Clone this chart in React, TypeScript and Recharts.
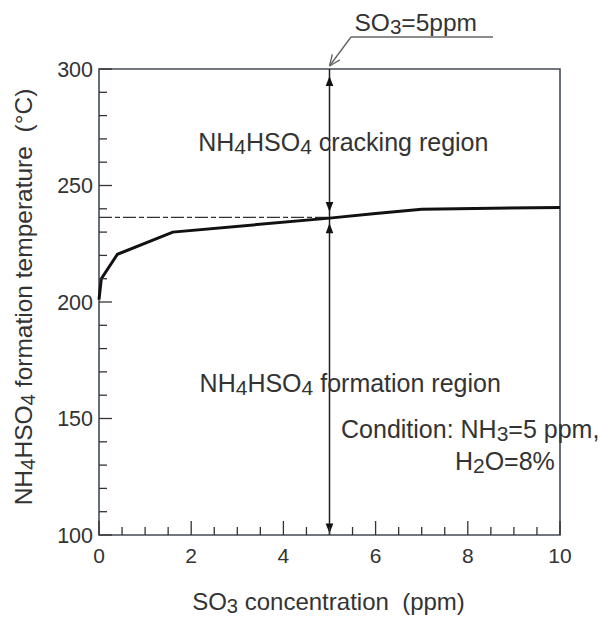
import React from 'react';
import {
  LineChart,
  Line,
  XAxis,
  YAxis,
  ReferenceLine,
  ReferenceArea,
  ReferenceDot
} from 'recharts';

// curve
const so3Ppm = [0, 0.05, 0.4, 1.6, 5, 6, 7, 10];
const formationTemp = [201, 210, 220.5, 230, 236, 238, 239.8, 240.6];

const xTicks = [0, 0.5, 1, 1.5, 2, 2.5, 3, 3.5, 4, 4.5, 5, 5.5, 6, 6.5, 7, 7.5, 8, 8.5, 9, 9.5, 10];
const yTicks = [100, 110, 120, 130, 140, 150, 160, 170, 180, 190, 200, 210, 220, 230, 240, 250, 260, 270, 280, 290, 300];

const markerX = 5;
const crossTemp = 236.3;
// arrow tips on the x=5 line: [y, direction]
const arrowTips: [number, 'up' | 'down'][] = [
  [297, 'up'],
  [238.6, 'down'],
  [233.8, 'up'],
  [100.6, 'down']
];

const FONT = '"Liberation Sans", Arial, sans-serif';
const TEXT = '#333';

const data = so3Ppm.map((x, i) => ({ x, y: formationTemp[i] }));

// [text, isSubscript]
type Part = [string, boolean];

const renderParts = (parts: Part[], shift = 3) => {
  let down = false;
  return parts.map(([t, sub], i) => {
    let dy = 0;
    if (sub && !down) { dy = shift; down = true; }
    else if (!sub && down) { dy = -shift; down = false; }
    return (
      <tspan key={i} dy={dy} fontSize={sub ? '0.84em' : undefined}>{t}</tspan>
    );
  });
};

const NH4HSO4: Part[] = [['NH', false], ['4', true], ['HSO', false], ['4', true]];

const XTick = (props: any) => {
  const { x, y, payload } = props;
  const v = payload.value;
  const major = v % 2 === 0;
  return (
    <g>
      <line x1={x} y1={y} x2={x} y2={y - (major ? 14 : 8)} stroke="#333" strokeWidth={1.3} />
      {major && (
        <text x={x} y={y + 28} textAnchor="middle" fontSize={21} fontFamily={FONT} fill={TEXT}>
          {v}
        </text>
      )}
    </g>
  );
};

const YTick = (props: any) => {
  const { x, y, payload } = props;
  const v = payload.value;
  const major = v % 50 === 0;
  return (
    <g>
      <line x1={x} y1={y} x2={x + (major ? 13 : 8)} y2={y} stroke="#333" strokeWidth={1.3} />
      {major && (
        <text x={x - 6} y={y + 7.5} textAnchor="end" fontSize={21.5} fontFamily={FONT} fill={TEXT}>
          {v}
        </text>
      )}
    </g>
  );
};

const Arrow = ({ cx, cy, dir }: any) => {
  const s = dir === 'up' ? 1 : -1;
  return (
    <polygon
      points={`${cx},${cy} ${cx - 3.8},${cy + s * 10} ${cx + 3.8},${cy + s * 10}`}
      fill="#111"
    />
  );
};

// leader note above the frame, anchored to (5, 300)
const So3Note = ({ cx, cy }: any) => {
  const sx = cx + 21.5;
  const sy = cy - 32;
  const ang = Math.atan2(cy - 3 - sy, cx - sx);
  const tipX = cx;
  const tipY = cy - 3;
  const len = 12;
  const a1 = ang + Math.PI - 0.4;
  const a2 = ang + Math.PI + 0.4;
  return (
    <g stroke="#666" strokeWidth={1.4} fill="none">
      <line x1={sx} y1={sy} x2={sx + 142} y2={sy} />
      <line x1={sx} y1={sy} x2={tipX} y2={tipY} />
      <line x1={tipX} y1={tipY} x2={tipX + len * Math.cos(a1)} y2={tipY + len * Math.sin(a1)} />
      <line x1={tipX} y1={tipY} x2={tipX + len * Math.cos(a2)} y2={tipY + len * Math.sin(a2)} />
      <text
        x={cx + 25}
        y={cy - 38.5}
        fontSize={24.5}
        fontFamily={FONT}
        fill={TEXT}
        stroke="none"
      >
        {renderParts([['SO', false], ['3', true], ['=5ppm', false]])}
      </text>
    </g>
  );
};

const NoteText = ({ cx, cy, parts, anchor }: any) => (
  <text
    x={cx}
    y={cy}
    textAnchor={anchor || 'start'}
    fontSize={25}
    fontFamily={FONT}
    fill={TEXT}
    style={{ whiteSpace: 'pre' }}
  >
    {renderParts(parts)}
  </text>
);

const YLabel = (props: any) => {
  const vb = props.viewBox || {};
  const cx = 32;
  const cy = vb.y + vb.height / 2 - 5;
  return (
    <text
      x={cx}
      y={cy}
      transform={`rotate(-90, ${cx}, ${cy})`}
      textAnchor="middle"
      fontSize={24.5}
      fontFamily={FONT}
      fill={TEXT}
      style={{ whiteSpace: 'pre' }}
    >
      {renderParts([...NH4HSO4, [' formation temperature  (°C)', false]])}
    </text>
  );
};

const XLabel = (props: any) => {
  const vb = props.viewBox || {};
  const cx = vb.x + vb.width / 2 - 1;
  return (
    <text
      x={cx}
      y={610}
      textAnchor="middle"
      fontSize={24}
      fontFamily={FONT}
      fill={TEXT}
      style={{ whiteSpace: 'pre' }}
    >
      {renderParts([['SO', false], ['3', true], [' concentration  (ppm)', false]])}
    </text>
  );
};

export default function App() {
  return (
    <div style={{ position: 'absolute', left: 0, top: 0, background: '#fff' }}>
      <LineChart width={600} height={617} data={data} margin={{ top: 69, right: 40, left: 0, bottom: 0 }}>
        <XAxis
          dataKey="x"
          type="number"
          domain={[0, 10]}
          ticks={xTicks}
          interval={0}
          tick={<XTick />}
          tickLine={false}
          axisLine={false}
          tickSize={0}
          tickMargin={0}
          height={82}
          label={{ content: XLabel }}
        />
        <YAxis
          type="number"
          domain={[100, 300]}
          ticks={yTicks}
          interval={0}
          tick={<YTick />}
          tickLine={false}
          axisLine={false}
          tickSize={0}
          tickMargin={0}
          width={99}
          label={{ content: YLabel }}
        />
        <ReferenceArea x1={0} x2={10} y1={100} y2={300} fill="none" stroke="#444b55" strokeWidth={1.6} ifOverflow="visible" />
        <ReferenceLine
          segment={[{ x: 0, y: crossTemp }, { x: markerX, y: crossTemp }]}
          stroke="#333"
          strokeWidth={1.3}
          strokeDasharray="13 3 5 3"
          ifOverflow="visible"
        />
        <ReferenceLine
          segment={[{ x: markerX, y: 100 }, { x: markerX, y: 300 }]}
          stroke="#222"
          strokeWidth={1.5}
          ifOverflow="visible"
        />
        <Line
          type="linear"
          dataKey="y"
          stroke="#111"
          strokeWidth={3}
          dot={false}
          isAnimationActive={false}
        />
        {arrowTips.map(([y, dir], i) => (
          <ReferenceDot key={i} x={markerX} y={y} r={1} ifOverflow="visible" shape={(p: any) => <Arrow {...p} dir={dir} />} />
        ))}
        <ReferenceDot x={markerX} y={300} r={1} ifOverflow="visible" shape={(p: any) => <So3Note {...p} />} />
        <ReferenceDot
          x={5.3}
          y={265}
          r={1}
          ifOverflow="visible"
          shape={(p: any) => <NoteText {...p} anchor="middle" parts={[...NH4HSO4, [' cracking region', false]]} />}
        />
        <ReferenceDot
          x={5.45}
          y={161.5}
          r={1}
          ifOverflow="visible"
          shape={(p: any) => <NoteText {...p} anchor="middle" parts={[...NH4HSO4, [' formation region', false]]} />}
        />
        <ReferenceDot
          x={5.25}
          y={141.6}
          r={1}
          ifOverflow="visible"
          shape={(p: any) => (
            <NoteText {...p} parts={[['Condition: NH', false], ['3', true], ['=5 ppm,', false]]} />
          )}
        />
        <ReferenceDot
          x={7.72}
          y={127.9}
          r={1}
          ifOverflow="visible"
          shape={(p: any) => <NoteText {...p} parts={[['H', false], ['2', true], ['O=8%', false]]} />}
        />
      </LineChart>
    </div>
  );
}
